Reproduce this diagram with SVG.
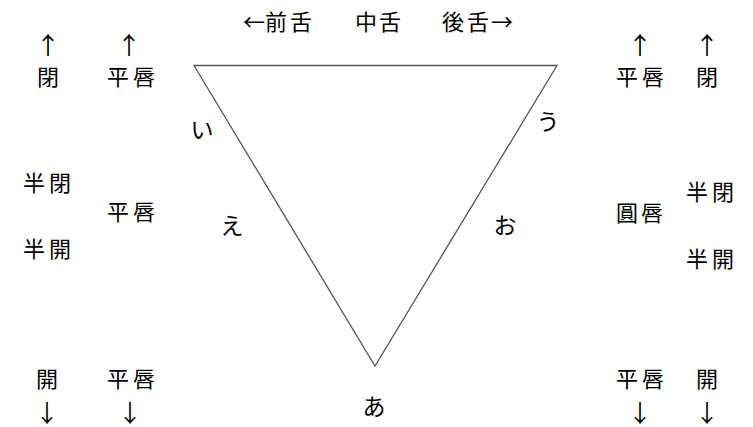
<svg xmlns="http://www.w3.org/2000/svg" width="753" height="427" viewBox="0 0 753 427">
<style>
  text { font-family: "Noto Sans CJK JP", "Noto Sans CJK SC", sans-serif; font-size: 22px; fill: #000; text-anchor: middle; dominant-baseline: central; }
  .kana { font-size: 23px; }
  .arr { font-size: 24px; }
  .tri { fill: none; stroke: #555; stroke-width: 1.3; }
</style>
<rect width="753" height="427" fill="#fff"/>
<g id="triangle">
  <polygon class="tri" points="194,65.5 557,65.5 375,366"/>
</g>
<g id="tongue-axis">
  <text x="254 276 301" y="20">←前舌</text>
  <text x="366 390" y="20">中舌</text>
  <text x="453 478 502" y="20">後舌→</text>
</g>
<g id="vowels">
  <text class="kana" x="202" y="128">い</text>
  <text class="kana" x="232" y="224">え</text>
  <text class="kana" x="374" y="405">あ</text>
  <text class="kana" x="505" y="224">お</text>
  <text class="kana" x="548" y="120">う</text>
</g>
<g id="left-openness">
  <text class="arr" x="48" y="43">↑</text>
  <text x="48" y="75">閉</text>
  <text x="34 60" y="181">半閉</text>
  <text x="34 60" y="247">半開</text>
  <text x="47" y="377">開</text>
  <text class="arr" x="47" y="411">↓</text>
</g>
<g id="left-lips">
  <text class="arr" x="129" y="43">↑</text>
  <text x="118 144" y="75">平唇</text>
  <text x="118 144" y="210">平唇</text>
  <text x="118 144" y="377">平唇</text>
  <text class="arr" x="130" y="411">↓</text>
</g>
<g id="right-lips">
  <text class="arr" x="640" y="43">↑</text>
  <text x="627 653" y="75">平唇</text>
  <text x="627 652" y="211">圓唇</text>
  <text x="627 653" y="377">平唇</text>
  <text class="arr" x="640" y="411">↓</text>
</g>
<g id="right-openness">
  <text class="arr" x="707" y="43">↑</text>
  <text x="707" y="75">閉</text>
  <text x="697 723" y="190">半閉</text>
  <text x="697 723" y="257">半開</text>
  <text x="707" y="377">開</text>
  <text class="arr" x="707" y="411">↓</text>
</g>
</svg>
